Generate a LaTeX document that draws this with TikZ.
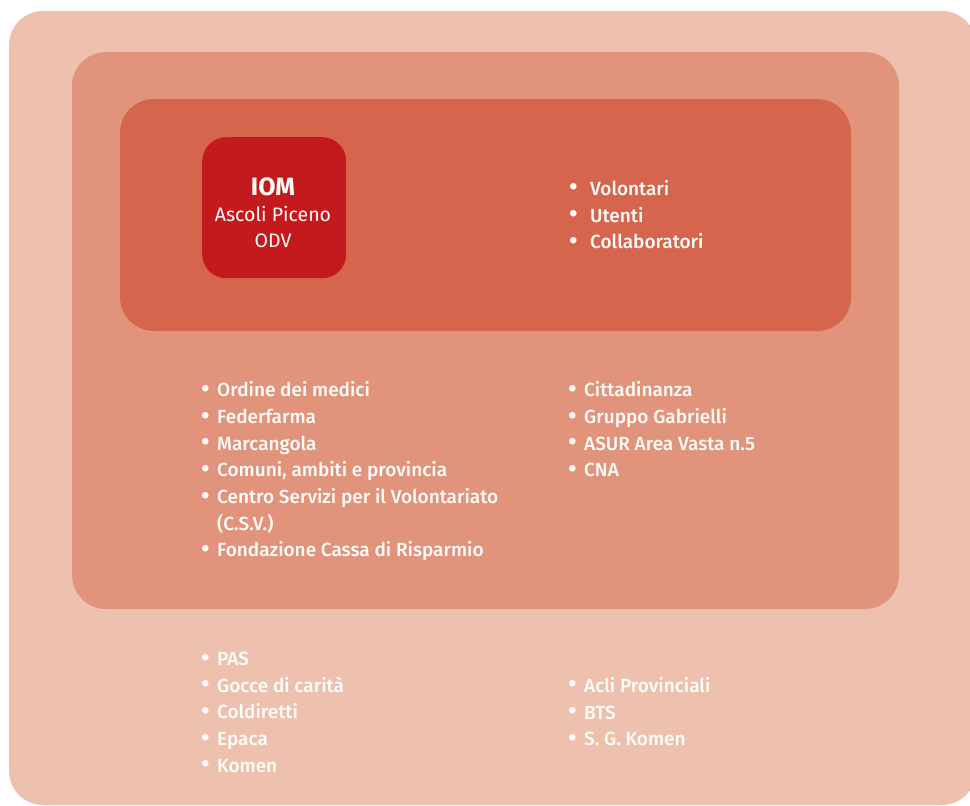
\documentclass[tikz,border=0pt]{standalone}
\usepackage{fontspec}
\setmainfont{Fira Sans}
\newfontfamily\medfont{Fira Sans Medium}
\definecolor{outerc}{RGB}{237,193,174}
\definecolor{midc}{RGB}{225,147,123}
\definecolor{innerc}{RGB}{214,101,78}
\definecolor{iomc}{RGB}{196,26,29}
\definecolor{txtc}{RGB}{255,253,250}
\newcommand{\bigbul}{\raisebox{-0.6pt}{\scalebox{1.35}{•}}}
\newcommand{\bul}{\makebox[16pt][l]{\hspace{0pt}\bigbul}}
\newcommand{\bulw}{\makebox[21pt][l]{\hspace{0pt}\bigbul}}
\tikzset{
  layer/.style={fill=#1, draw=none, rounded corners=34pt},
  listbox/.style={anchor=north west, inner sep=0pt, align=left, text=txtc,
    font=\medfont\fontsize{19pt}{26.67pt}\selectfont},
  iombox/.style={fill=iomc, draw=none, rounded corners=24pt}
}
\begin{document}
\begin{tikzpicture}[x=1pt,y=-1pt]
\useasboundingbox (0,0) rectangle (970,806);
\clip (0,0) rectangle (970,806);
\fill[white] (0,0) rectangle (970,806);
\path[layer=outerc] (9,11) rectangle (976,805);
\path[layer=midc] (72,52) rectangle (899,609);
\path[layer=innerc] (120,99) rectangle (851,331);
\node[iombox, minimum width=144pt, minimum height=141pt, anchor=north west] (iom) at (202,137) {};
\node[text=txtc, font=\bfseries\fontsize{25pt}{28pt}\selectfont] (iomt) at (273,187) {IOM};
\node[text=txtc, align=center, inner sep=0pt, font=\fontsize{19.5pt}{26pt}\selectfont] (iomsub) at (273,227.5) {Ascoli Piceno\\ODV};
\node[listbox] (inner) at (569,180) {\bulw Volontari\\ \bulw Utenti\\ \bulw Collaboratori};
\node[listbox] (midl) at (201,381.5) {\bul Ordine dei medici\\ \bul Federfarma\\ \bul Marcangola\\ \bul Comuni, ambiti e provincia\\ \bul Centro Servizi per il Volontariato\\ \hspace*{16pt}(C.S.V.)\\ \bul Fondazione Cassa di Risparmio};
\node[listbox] (midr) at (568,381.5) {\bul Cittadinanza\\ \bul Gruppo Gabrielli\\ \bul ASUR Area Vasta n.5\\ \bul CNA};
\node[listbox] (outl) at (201,652) {\bul PAS\\ \bul Gocce di carità\\ \bul Coldiretti\\ \bul Epaca\\ \bul Komen};
\node[listbox] (outr) at (568,677) {\bul Acli Provinciali\\ \bul BTS\\ \bul S. G. Komen};
\end{tikzpicture}
\end{document}
